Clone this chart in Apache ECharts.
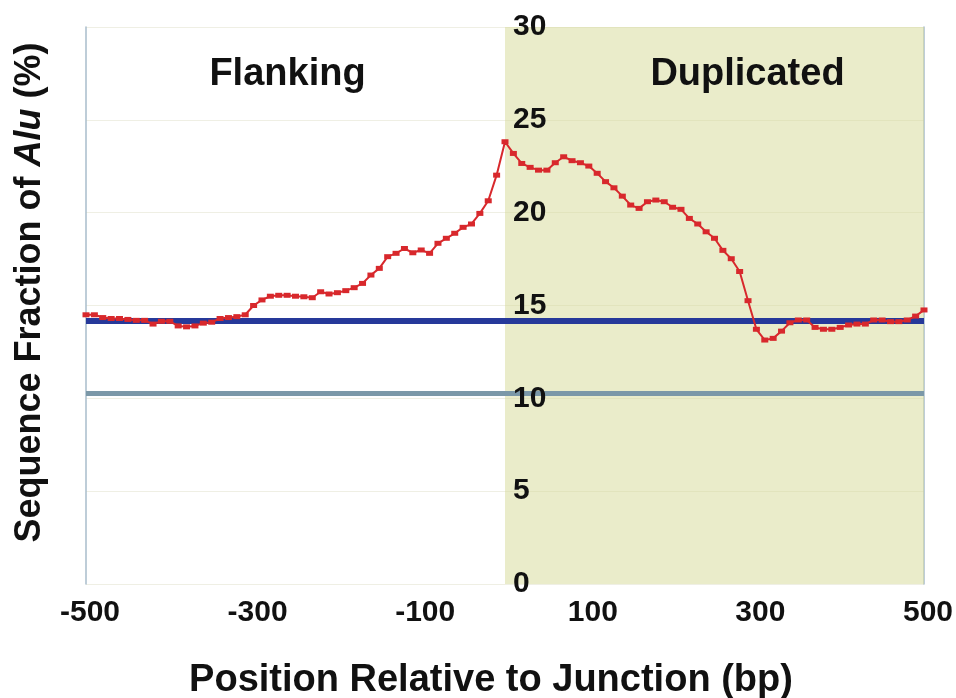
<!DOCTYPE html>
<html>
<head>
<meta charset="utf-8">
<script src="https://cdn.jsdelivr.net/npm/echarts@6/dist/echarts.min.js"></script>
<style>html,body{margin:0;padding:0;background:#fff;}#c{width:956px;height:698px;}</style>
</head>
<body>
<div id="c"></div>
<script>
// Position relative to junction (bp)
var positions = [-500,-490,-480,-470,-460,-450,-440,-430,-420,-410,-400,-390,-380,-370,-360,-350,-340,-330,-320,-310,
  -300,-290,-280,-270,-260,-250,-240,-230,-220,-210,-200,-190,-180,-170,-160,-150,-140,-130,-120,-110,
  -100,-90,-80,-70,-60,-50,-40,-30,-20,-10,0,10,20,30,40,50,60,70,80,90,
  100,110,120,130,140,150,160,170,180,190,200,210,220,230,240,250,260,270,280,290,
  300,310,320,330,340,350,360,370,380,390,400,410,420,430,440,450,460,470,480,490,500];
// Sequence fraction of Alu (%)
var aluFraction = [14.5,14.5,14.35,14.3,14.3,14.25,14.2,14.2,14.0,14.15,14.15,13.9,13.85,13.9,14.05,14.1,14.3,14.35,14.4,14.5,
  15.0,15.3,15.5,15.55,15.55,15.5,15.47,15.42,15.74,15.62,15.69,15.8,15.96,16.19,16.64,17.0,17.63,17.81,18.07,17.84,
  17.99,17.81,18.35,18.62,18.89,19.21,19.39,19.96,20.64,22.02,23.82,23.19,22.65,22.44,22.29,22.29,22.69,23.01,22.8,22.69,
  22.51,22.12,21.67,21.34,20.89,20.41,20.23,20.59,20.68,20.59,20.29,20.18,19.69,19.39,18.97,18.62,17.97,17.52,16.83,15.26,
  13.72,13.14,13.23,13.62,14.07,14.22,14.22,13.82,13.72,13.72,13.82,13.95,14.0,14.0,14.22,14.22,14.13,14.13,14.22,14.43,14.76];
var flankingBaseline = 14.2;   // dark blue line
var genomeBaseline = 10.25;    // grey-blue line
var regionLabels = ['Flanking', 'Duplicated'];
var xTicks = [-500, 500, 200];  // min, max, interval
var yTicks = [0, 30, 5];

var FONT = '"Liberation Sans", Arial, sans-serif';
var chart = echarts.init(document.getElementById('c'), null, {renderer: 'canvas'});
var seriesData = positions.map(function (p, i) { return [p, aluFraction[i]]; });

chart.setOption({
  animation: false,
  backgroundColor: '#ffffff',
  textStyle: {fontFamily: FONT},
  grid: {left: 86, right: 32, top: 27, bottom: 114, containLabel: false, outerBoundsMode: 'none'},
  xAxis: {
    type: 'value', min: xTicks[0], max: xTicks[1], interval: xTicks[2],
    axisLine: {show: false, onZero: false}, axisTick: {show: false}, splitLine: {show: false},
    axisLabel: {fontSize: 30, fontWeight: 'bold', color: '#111', margin: 14, fontFamily: FONT,
      showMinLabel: true, showMaxLabel: true, padding: [0, 0, 0, 8]},
    name: 'Position Relative to Junction (bp)', nameLocation: 'middle', nameGap: 78,
    nameTextStyle: {fontSize: 38, fontWeight: 'bold', color: '#111', fontFamily: FONT, padding: [0, 28, 0, 0]}
  },
  yAxis: [{
    type: 'value', min: yTicks[0], max: yTicks[1], interval: yTicks[2], position: 'left',
    axisLine: {show: true, onZero: false, lineStyle: {color: '#a8bccb', width: 1.5}},
    axisTick: {show: false}, axisLabel: {show: false},
    splitLine: {show: true, lineStyle: {color: '#efefe4', width: 1}},
    name: '{a|Sequence Fraction of }{b|Alu}{a| (%)}', nameLocation: 'middle', nameGap: 38,
    nameTextStyle: {padding: [0, 0, 0, 26], rich: {
      a: {fontSize: 36, fontWeight: 'bold', color: '#111', fontFamily: FONT},
      b: {fontSize: 36, fontWeight: 'bold', fontStyle: 'italic', color: '#111', fontFamily: FONT}
    }}
  }, {
    type: 'value', min: yTicks[0], max: yTicks[1], interval: yTicks[2], position: 'left',
    offset: -419, z: 10,
    axisLine: {show: false, onZero: false},
    axisTick: {show: false}, splitLine: {show: false},
    axisLabel: {inside: true, margin: 8, fontSize: 30, fontWeight: 'bold', color: '#111', fontFamily: FONT,
      showMinLabel: true, showMaxLabel: true}
  }, {
    type: 'value', min: yTicks[0], max: yTicks[1], interval: yTicks[2], position: 'right',
    axisLine: {show: true, onZero: false, lineStyle: {color: '#a8bccb', width: 1.5}},
    axisTick: {show: false}, axisLabel: {show: false}, splitLine: {show: false}
  }],
  series: [{
    type: 'line', name: 'regions', data: [], silent: true, z: 1,
    markArea: {
      silent: true,
      data: [
        [{xAxis: positions[0], itemStyle: {color: 'rgba(0,0,0,0)'},
          label: {show: true, position: 'insideTop', distance: 29, offset: [-8, 0], formatter: regionLabels[0],
            fontSize: 38, fontWeight: 'bold', color: '#111', fontFamily: FONT}},
         {xAxis: 0}],
        [{xAxis: 0, itemStyle: {color: 'rgba(214,218,150,0.5)'},
          label: {show: true, position: 'insideTop', distance: 29, offset: [33, 0], formatter: regionLabels[1],
            fontSize: 38, fontWeight: 'bold', color: '#111', fontFamily: FONT}},
         {xAxis: positions[positions.length - 1]}]
      ]
    }
  }, {
    type: 'line', name: 'baselines', data: [], silent: true, z: 2,
    markLine: {
      silent: true, symbol: ['none', 'none'], label: {show: false},
      data: [
        {yAxis: genomeBaseline, lineStyle: {color: '#7b98a8', width: 5, type: 'solid'}},
        {yAxis: flankingBaseline, lineStyle: {color: '#26399a', width: 6, type: 'solid'}}
      ]
    }
  }, {
    type: 'line', name: 'Alu', data: seriesData, z: 5,
    symbol: 'rect', symbolSize: [7, 5], showSymbol: true,
    lineStyle: {color: '#d8282c', width: 2},
    itemStyle: {color: '#d8282c'}
  }]
});
</script>
</body>
</html>
